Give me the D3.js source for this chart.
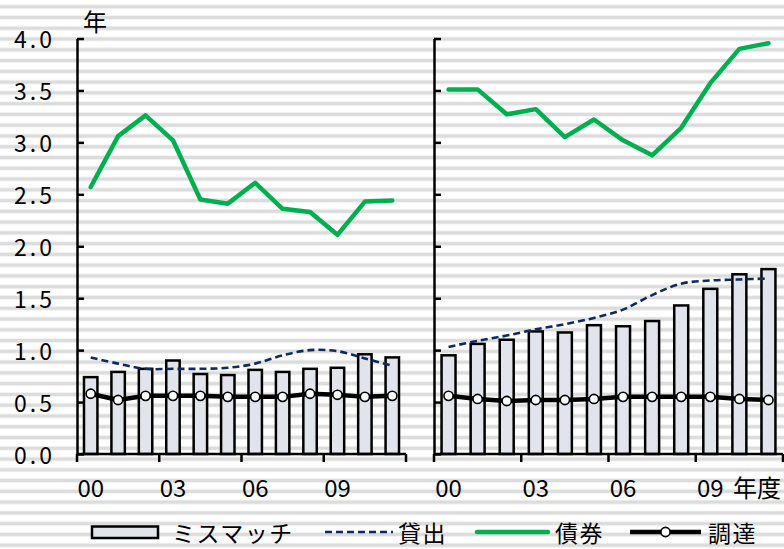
<!DOCTYPE html>
<html><head><meta charset="utf-8">
<script src="https://cdn.jsdelivr.net/npm/d3@7"></script>
<style>
html,body{margin:0;padding:0;background:#fff;}
svg{display:block;font-family:"Noto Sans CJK JP","Noto Sans",sans-serif;}
</style></head>
<body>
<svg id="c" width="784" height="549"></svg>
<script>
const years = ["00","01","02","03","04","05","06","07","08","09","10","11"];
const xTickLabels = ["00","03","06","09"];
const yTicks = [0,0.5,1,1.5,2,2.5,3,3.5,4];

const leftMismatch = [0.74,0.79,0.82,0.90,0.77,0.76,0.81,0.79,0.82,0.83,0.96,0.93];
const leftLoan     = [0.93,0.87,0.82,0.82,0.82,0.83,0.87,0.95,1.00,0.99,0.92,0.85];
const leftBond     = [2.57,3.06,3.26,3.02,2.45,2.41,2.61,2.36,2.33,2.11,2.43,2.44];
const leftFunding  = [0.58,0.52,0.56,0.56,0.56,0.55,0.55,0.55,0.58,0.57,0.55,0.56];

const rightMismatch = [0.95,1.06,1.10,1.18,1.17,1.24,1.23,1.28,1.43,1.59,1.73,1.78];
const rightLoan     = [1.03,1.09,1.14,1.20,1.25,1.31,1.39,1.53,1.64,1.67,1.68,1.69];
const rightBond     = [3.51,3.51,3.27,3.32,3.05,3.22,3.02,2.875,3.14,3.57,3.90,3.955];
const rightFunding  = [0.56,0.53,0.51,0.52,0.52,0.53,0.55,0.55,0.55,0.55,0.53,0.52];

const legendLabels = ["ミスマッチ","貸出","債券","調達"];

const svg = d3.select("#c");
const W = 784, H = 549;

// striped background
const bg = svg.append("g");
bg.append("rect").attr("width",W).attr("height",H).attr("fill","#ffffff");
const stripeYs = d3.range(0, 52).map(i => 5.2 + i*10.77);
bg.selectAll("rect.s").data(stripeYs).join("rect").attr("class","s")
  .attr("x",0).attr("width",W).attr("y",d=>d).attr("height",3)
  .attr("fill","#dcdcdc");
bg.selectAll("rect.s2").data(stripeYs).join("rect").attr("class","s2")
  .attr("x",0).attr("width",W).attr("y",d=>d-1).attr("height",5)
  .attr("fill","#dcdcdc").attr("opacity",0.35);

const y = d3.scaleLinear().domain([0,4]).range([454,38.5]);

const COL_BAR = "#e1e4ea", COL_LOAN = "#0d2a63", COL_BOND = "#00b050";

function panel(x0, x1, mismatch, loan, bond, funding, showLabels, barFrac){
  const x = d3.scaleBand().domain(years).range([x0,x1]).padding(0);
  const g = svg.append("g");
  const bw = x.bandwidth()*barFrac;
  g.selectAll("rect.bar").data(years).join("rect").attr("class","bar")
    .attr("x",(d)=>x(d)+(x.bandwidth()-bw)/2)
    .attr("width",bw)
    .attr("y",(d,i)=>y(mismatch[i]))
    .attr("height",(d,i)=>y(0)-y(mismatch[i]))
    .attr("fill",COL_BAR).attr("stroke","#000").attr("stroke-width",2.5);
  const cx = d => x(d)+x.bandwidth()/2;
  g.append("path").datum(years)
    .attr("d", d3.line().x(cx).y((d,i)=>y(loan[i])).curve(d3.curveCatmullRom.alpha(0.5)))
    .attr("fill","none").attr("stroke",COL_LOAN).attr("stroke-width",2.6)
    .attr("stroke-dasharray","7,4");
  g.append("path").datum(years)
    .attr("d", d3.line().x(cx).y((d,i)=>y(bond[i])))
    .attr("fill","none").attr("stroke",COL_BOND).attr("stroke-width",4.5)
    .attr("stroke-linejoin","round").attr("stroke-linecap","round");
  g.append("path").datum(years)
    .attr("d", d3.line().x(cx).y((d,i)=>y(funding[i])))
    .attr("fill","none").attr("stroke","#000").attr("stroke-width",4.5)
    .attr("stroke-linejoin","round");
  g.selectAll("circle.f").data(years).join("circle").attr("class","f")
    .attr("cx",cx).attr("cy",(d,i)=>y(funding[i])).attr("r",4.6)
    .attr("fill","#fff").attr("stroke","#000").attr("stroke-width",1.6);
  const ya = g.append("g").attr("transform",`translate(${x0},0)`)
    .call(d3.axisLeft(y).tickValues(yTicks).tickSizeInner(-7).tickSizeOuter(0).tickFormat(""));
  ya.select(".domain").attr("stroke","#000").attr("stroke-width",2.5);
  ya.selectAll(".tick line").attr("stroke","#000").attr("stroke-width",2.5);
  if(showLabels){
    g.selectAll("text.yl").data(yTicks).join("text").attr("class","yl")
      .attr("x",55).attr("y",d=>y(d)+9.5).attr("text-anchor","end")
      .attr("font-size",23).attr("letter-spacing",3).attr("fill","#000")
      .text(d=>d3.format(".1f")(d));
  }
  g.append("line").attr("x1",x0).attr("x2",x1).attr("y1",y(0)).attr("y2",y(0))
    .attr("stroke","#000").attr("stroke-width",2.5);
  const tickPos = [0,3,6,9].map(i=>x(years[i])).concat([x1]);
  g.selectAll("line.xt").data(tickPos).join("line").attr("class","xt")
    .attr("x1",d=>d).attr("x2",d=>d).attr("y1",y(0)).attr("y2",y(0)+8)
    .attr("stroke","#000").attr("stroke-width",2.5);
  g.selectAll("text.xl").data(xTickLabels).join("text").attr("class","xl")
    .attr("x",d=>cx(d)).attr("y",497).attr("text-anchor","middle")
    .attr("font-size",24).attr("fill","#000").text(d=>d);
  return x;
}

panel(77, 406, leftMismatch, leftLoan, leftBond, leftFunding, true, 0.49);
panel(434, 783, rightMismatch, rightLoan, rightBond, rightFunding, false, 0.48);

svg.append("text").attr("x",83).attr("y",31).attr("font-size",24).text("年");
svg.append("text").attr("x",733).attr("y",497).attr("font-size",24).text("年度");

// legend
const lg = svg.append("g");
const ly = 532, lt = 542, lfs = 23;
lg.append("rect").attr("x",92).attr("y",526.5).attr("width",66).attr("height",11.5)
  .attr("fill",COL_BAR).attr("stroke","#000").attr("stroke-width",2.5);
lg.append("text").attr("x",172).attr("y",lt).attr("font-size",lfs).attr("letter-spacing",1.5).text(legendLabels[0]);
lg.append("line").attr("x1",325).attr("x2",393).attr("y1",ly).attr("y2",ly)
  .attr("stroke",COL_LOAN).attr("stroke-width",2.6).attr("stroke-dasharray","7,4");
lg.append("text").attr("x",398).attr("y",lt).attr("font-size",lfs).attr("letter-spacing",1.5).text(legendLabels[1]);
lg.append("line").attr("x1",477).attr("x2",548).attr("y1",ly).attr("y2",ly)
  .attr("stroke",COL_BOND).attr("stroke-width",4.5).attr("stroke-linecap","round");
lg.append("text").attr("x",555).attr("y",lt).attr("font-size",lfs).attr("letter-spacing",1.5).text(legendLabels[2]);
lg.append("line").attr("x1",630).attr("x2",701).attr("y1",ly).attr("y2",ly)
  .attr("stroke","#000").attr("stroke-width",4.5);
lg.append("circle").attr("cx",665.5).attr("cy",ly).attr("r",4.6)
  .attr("fill","#fff").attr("stroke","#000").attr("stroke-width",1.6);
lg.append("text").attr("x",708).attr("y",lt).attr("font-size",lfs).attr("letter-spacing",1.5).text(legendLabels[3]);
</script>
</body></html>
